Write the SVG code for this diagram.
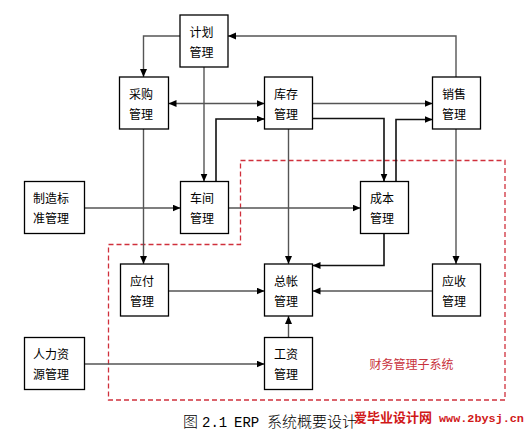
<svg xmlns="http://www.w3.org/2000/svg" width="527" height="434" viewBox="0 0 527 434">
<style>
.box{fill:#fff;stroke:#000;stroke-width:1.3}
.t{font-family:"Noto Sans CJK SC","Liberation Sans",sans-serif;font-size:12px;fill:#000}
.c{fill:none;stroke:#555;stroke-width:1.4}
.d{fill:none;stroke:#111;stroke-width:1.6}
</style>
<defs>
<marker id="a" markerUnits="userSpaceOnUse" markerWidth="9" markerHeight="8" refX="8" refY="3.5" orient="auto-start-reverse">
<path d="M0,0 L8,3.5 L0,7 z" fill="#000"/>
</marker>
</defs>
<rect width="527" height="434" fill="#fff"/>
<g id="boundary">
<path d="M240.5,160.5 H505 V400 H108.5 V244.5 H240.5 Z" fill="none" stroke="#d0303c" stroke-width="1.3" stroke-dasharray="5,3"/>
<text x="369.5" y="368.5" style="font-family:'Noto Sans CJK SC',sans-serif;font-size:12px;fill:#c8323c">财务管理子系统</text>
</g>
<g id="connectors">
<path class="c" d="M180,36 H143.5 V77" marker-end="url(#a)"/>
<path class="c" d="M456,77 V36 H228" marker-end="url(#a)"/>
<path class="c" d="M168.5,103.5 H264.5" marker-start="url(#a)" marker-end="url(#a)"/>
<path class="c" d="M204,67 V181.5" marker-end="url(#a)"/>
<path class="d" d="M216,181.5 V119 H264.5" marker-end="url(#a)"/>
<path class="c" d="M312.5,103.5 H432.5" marker-end="url(#a)"/>
<path class="d" d="M312.5,118.5 H384 V181.5" marker-end="url(#a)"/>
<path class="d" d="M396,181.5 V119.5 H432.5" marker-end="url(#a)"/>
<path class="c" d="M143.5,129 V264" marker-end="url(#a)"/>
<path class="c" d="M84.5,208 H180.5" marker-end="url(#a)"/>
<path class="c" d="M228.5,208 H360.5" marker-end="url(#a)"/>
<path class="c" d="M288.5,129 V264" marker-end="url(#a)"/>
<path class="d" d="M384,233.5 V265.5 H312.5" marker-end="url(#a)"/>
<path class="c" d="M456,129 V264" marker-end="url(#a)"/>
<path class="c" d="M168.5,291 H264.5" marker-end="url(#a)"/>
<path class="c" d="M432.5,291 H312.5" marker-end="url(#a)"/>
<path class="c" d="M84.5,364 H264.5" marker-end="url(#a)"/>
<path class="c" d="M288.5,337.5 V316" marker-end="url(#a)"/>
</g>
<g id="jihua"><rect class="box" x="180" y="15" width="48" height="52"/><text class="t" x="189.5" y="36.5">计划</text><text class="t" x="189.5" y="56.5">管理</text></g>
<g id="caigou"><rect class="box" x="119.5" y="77" width="49" height="52"/><text class="t" x="129" y="98.5">采购</text><text class="t" x="129" y="118.5">管理</text></g>
<g id="kucun"><rect class="box" x="264.5" y="77" width="48" height="52"/><text class="t" x="274" y="98.5">库存</text><text class="t" x="274" y="118.5">管理</text></g>
<g id="xiaoshou"><rect class="box" x="432.5" y="77" width="48" height="52"/><text class="t" x="442" y="98.5">销售</text><text class="t" x="442" y="118.5">管理</text></g>
<g id="zhizao"><rect class="box" x="24.5" y="181.5" width="60" height="52"/><text class="t" x="33" y="203">制造标</text><text class="t" x="33" y="223">准管理</text></g>
<g id="chejian"><rect class="box" x="180.5" y="181.5" width="48" height="52"/><text class="t" x="190" y="203">车间</text><text class="t" x="190" y="223">管理</text></g>
<g id="chengben"><rect class="box" x="360.5" y="181.5" width="48" height="52"/><text class="t" x="370" y="203">成本</text><text class="t" x="370" y="223">管理</text></g>
<g id="yingfu"><rect class="box" x="120.5" y="264" width="48" height="52"/><text class="t" x="130" y="285.5">应付</text><text class="t" x="130" y="305.5">管理</text></g>
<g id="zongzhang"><rect class="box" x="264.5" y="264" width="48" height="52"/><text class="t" x="274" y="285.5">总帐</text><text class="t" x="274" y="305.5">管理</text></g>
<g id="yingshou"><rect class="box" x="432.5" y="264" width="48" height="52"/><text class="t" x="442" y="285.5">应收</text><text class="t" x="442" y="305.5">管理</text></g>
<g id="renli"><rect class="box" x="24.5" y="337.5" width="60" height="52"/><text class="t" x="33" y="359">人力资</text><text class="t" x="33" y="379">源管理</text></g>
<g id="gongzi"><rect class="box" x="264.5" y="337.5" width="48" height="52"/><text class="t" x="274" y="359">工资</text><text class="t" x="274" y="379">管理</text></g>
<g id="caption">
<text y="427" style="font-family:'Noto Sans CJK SC',sans-serif;font-size:15px;font-weight:300;fill:#000"><tspan x="183">图</tspan><tspan x="202" style="font-family:'Liberation Mono',monospace;font-size:14px;font-weight:normal">2.1</tspan><tspan x="234" style="font-family:'Liberation Mono',monospace;font-size:14px;font-weight:normal">ERP</tspan><tspan x="267">系统概要设计</tspan></text>
<text x="354" y="421.5" style="font-family:'Noto Sans CJK SC',sans-serif;font-size:13px;font-weight:bold;fill:#d01818">爱毕业设计网</text>
<text x="439" y="421.5" style="font-family:'Liberation Mono',monospace;font-size:11.8px;font-weight:bold;fill:#d01818">www.2bysj.cn</text>
</g>
</svg>
